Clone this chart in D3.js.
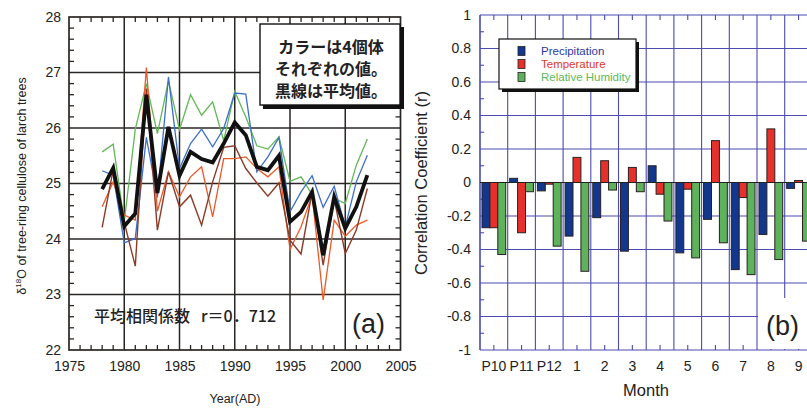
<!DOCTYPE html>
<html><head><meta charset="utf-8">
<script src="https://cdn.jsdelivr.net/npm/d3@7"></script>
<style>
body{margin:0;background:#fff}
svg{display:block}
text{font-family:"Liberation Sans",Arial,sans-serif;fill:#222}
.jp{font-family:"Noto Sans CJK JP","Noto Sans",sans-serif}
</style>
</head><body>
<svg id="c" width="807" height="408"></svg>
<script>
// ---------- Panel (a) data ----------
const years = [1978,1979,1980,1981,1982,1983,1984,1985,1986,1987,1988,1989,1990,
               1991,1992,1993,1994,1995,1996,1997,1998,1999,2000,2001,2002];
const treeGreen  = [25.57,25.71,24.31,25.98,26.80,25.90,26.85,25.97,26.60,26.23,26.47,25.77,26.66,26.20,25.68,25.62,25.84,25.04,25.12,24.80,23.70,24.73,24.64,25.33,25.80];
const treeBlue   = [25.23,25.15,23.93,24.01,25.83,24.75,26.92,25.27,25.72,25.98,25.66,25.99,26.63,26.61,25.21,25.48,25.83,24.49,24.85,25.14,24.57,24.95,24.22,25.03,25.51];
const treeOrange = [24.58,25.03,24.43,24.34,27.09,24.50,25.21,24.76,25.12,25.30,24.40,25.45,25.45,25.48,25.27,25.12,25.30,23.81,24.22,24.79,22.90,24.34,24.05,24.25,24.34];
const treeBrown  = [24.21,25.25,24.30,23.51,26.71,24.16,25.21,24.58,24.79,24.25,25.03,25.65,25.68,25.27,25.01,24.77,25.01,23.98,23.73,24.85,23.53,24.72,23.74,24.16,24.91];
const treeMean   = [24.90,25.28,24.23,24.46,26.60,24.83,26.02,25.14,25.57,25.44,25.38,25.72,26.10,25.87,25.30,25.24,25.50,24.31,24.49,24.85,23.71,24.76,24.19,24.58,25.15];
const xTicksA = [1975,1980,1985,1990,1995,2000,2005];
const yTicksA = [22,23,24,25,26,27,28];
const boxLines = ["カラーは4個体","それぞれの値。","黒線は平均値。"];

// ---------- Panel (b) data ----------
const months = ["P10","P11","P12","1","2","3","4","5","6","7","8","9"];
const precipitation   = [-0.27, 0.025,-0.05,-0.32,-0.21,-0.41, 0.10,-0.42,-0.22,-0.52,-0.31,-0.035];
const temperature     = [-0.27,-0.30,-0.01, 0.15, 0.13, 0.09,-0.07,-0.04, 0.25,-0.09, 0.32, 0.012];
const relHumidity     = [-0.43,-0.055,-0.38,-0.53,-0.045,-0.055,-0.23,-0.45,-0.36,-0.55,-0.46,-0.35];
const seriesNames = ["Precipitation","Temperature","Relative Humidity"];
const yTicksB = [-1,-0.8,-0.6,-0.4,-0.2,0,0.2,0.4,0.6,0.8,1];

const svg = d3.select("#c");

// ================= Panel (a) =================
(function(){
  const L=69,R=400.5,T=17,B=350;
  const x=d3.scaleLinear().domain([1975,2005]).range([L,R]);
  const y=d3.scaleLinear().domain([22,28]).range([B,T]);
  const g=svg.append("g");
  const gridC="#2a2624";
  g.selectAll(".gx").data(xTicksA.slice(1,-1)).join("line")
    .attr("x1",d=>x(d)).attr("x2",d=>x(d)).attr("y1",T).attr("y2",B)
    .attr("stroke",gridC).attr("stroke-width",1.5);
  g.selectAll(".gy").data(yTicksA.slice(1,-1)).join("line")
    .attr("y1",d=>y(d)).attr("y2",d=>y(d)).attr("x1",L).attr("x2",R)
    .attr("stroke",gridC).attr("stroke-width",1.5);
  const minorX=d3.range(1976,2005,1).filter(v=>v%5!==0);
  const minorY=d3.range(22.2,28,0.2).filter(v=>Math.abs(v-Math.round(v))>0.01);
  const tl=5;
  minorX.forEach(v=>{
    g.append("line").attr("x1",x(v)).attr("x2",x(v)).attr("y1",B).attr("y2",B-tl).attr("stroke",gridC).attr("stroke-width",1.3);
    g.append("line").attr("x1",x(v)).attr("x2",x(v)).attr("y1",T).attr("y2",T+tl).attr("stroke",gridC).attr("stroke-width",1.3);
  });
  minorY.forEach(v=>{
    g.append("line").attr("y1",y(v)).attr("y2",y(v)).attr("x1",L).attr("x2",L+tl).attr("stroke",gridC).attr("stroke-width",1.3);
    g.append("line").attr("y1",y(v)).attr("y2",y(v)).attr("x1",R).attr("x2",R-tl).attr("stroke",gridC).attr("stroke-width",1.3);
  });
  g.append("rect").attr("x",L).attr("y",T).attr("width",R-L).attr("height",B-T)
    .attr("fill","none").attr("stroke",gridC).attr("stroke-width",1.7);

  const ax=g.append("g").attr("transform",`translate(0,${B})`)
    .call(d3.axisBottom(x).tickValues(xTicksA).tickFormat(d3.format("d")).tickSize(0).tickPadding(8));
  ax.select(".domain").remove();
  ax.selectAll("text").attr("font-size",14).attr("fill","#222").attr("dy","0.9em");
  const ay=g.append("g").attr("transform",`translate(${L},0)`)
    .call(d3.axisLeft(y).tickValues(yTicksA).tickFormat(d3.format("d")).tickSize(0).tickPadding(8));
  ay.select(".domain").remove();
  ay.selectAll("text").attr("font-size",14).attr("fill","#222");

  g.append("text").attr("x",235).attr("y",403).attr("text-anchor","middle")
    .attr("font-size",12.5).text("Year(AD)");
  const yl=g.append("text").attr("transform","translate(26,186) rotate(-90)")
    .attr("text-anchor","middle").attr("font-size",12.5);
  yl.append("tspan").text("δ");
  yl.append("tspan").attr("font-size",8).attr("dy",-5).text("18");
  yl.append("tspan").attr("dy",5).text("O of tree-ring cellulose of larch trees");

  const line=d3.line().x((d,i)=>x(years[i])).y(d=>y(d));
  const series=[[treeGreen,"#62b856",1.3],[treeBlue,"#3d6fc8",1.3],[treeOrange,"#ea5a28",1.3],[treeBrown,"#8c3b27",1.4],[treeMean,"#111",3.8]];
  series.forEach(([arr,c,w])=>{
    g.append("path").datum(arr).attr("d",line).attr("fill","none")
      .attr("stroke",c).attr("stroke-width",w).attr("stroke-linejoin","miter");
  });

  g.append("rect").attr("x",263).attr("y",27).attr("width",141).attr("height",82).attr("fill","#111");
  g.append("rect").attr("x",260).attr("y",24).attr("width",140).attr("height",81)
    .attr("fill","#fff").attr("stroke","#111").attr("stroke-width",1.4);
  boxLines.forEach((t,i)=>{
    g.append("text").attr("class","jp").attr("x",331).attr("y",53+i*22).attr("text-anchor","middle")
      .attr("font-size",16).attr("font-weight",700).attr("fill","#111").text(t);
  });
  g.append("text").attr("class","jp").attr("x",94).attr("y",322).attr("font-size",16)
    .attr("font-weight",500).attr("fill","#111").text("平均相関係数");
  g.append("text").attr("class","jp").attr("x",201).attr("y",322).attr("font-size",16)
    .attr("font-weight",500).attr("fill","#111").text("r＝0．712");
  g.append("text").attr("x",352).attr("y",333).attr("font-size",27).attr("fill","#111").text("(a)");
})();

// ================= Panel (b) =================
(function(){
  const L=480,T=15,B=350,step=27.7;
  const R=L+step*months.length;
  const x=d3.scaleBand().domain(months).range([L,R]).paddingInner(0).paddingOuter(0);
  const xs=d3.scaleBand().domain(seriesNames).range([0,x.bandwidth()]).paddingInner(0).paddingOuter(0.25);
  const y=d3.scaleLinear().domain([-1,1]).range([B,T]);
  const g=svg.append("g");
  const gc="#4b4bb0";
  const bounds=months.map(m=>x(m));
  g.selectAll(".vx").data(bounds.slice(1)).join("line")
    .attr("x1",d=>d).attr("x2",d=>d).attr("y1",T).attr("y2",B).attr("stroke",gc).attr("stroke-width",1.1);
  g.selectAll(".hy").data(yTicksB).join("line")
    .attr("y1",d=>y(d)).attr("y2",d=>y(d)).attr("x1",L).attr("x2",R).attr("stroke",gc).attr("stroke-width",1.1);
  g.append("line").attr("x1",L).attr("x2",L).attr("y1",T).attr("y2",B).attr("stroke",gc).attr("stroke-width",1.6);
  yTicksB.slice(0,-1).forEach(v=>{
    const m=v+0.1;
    g.append("line").attr("x1",L).attr("x2",L+4).attr("y1",y(m)).attr("y2",y(m)).attr("stroke",gc).attr("stroke-width",1.1);
  });
  months.forEach(m=>{
    const cx=x(m)+x.bandwidth()/2;
    g.append("line").attr("x1",cx).attr("x2",cx).attr("y1",T).attr("y2",T+5).attr("stroke",gc).attr("stroke-width",1.1);
    g.append("line").attr("x1",cx).attr("x2",cx).attr("y1",B).attr("y2",B-5).attr("stroke",gc).attr("stroke-width",1.1);
  });

  const colors=["#12388e","#e6302b","#5eb25c"];
  const data=months.map((m,i)=>({m,vals:[precipitation[i],temperature[i],relHumidity[i]]}));
  const gb=g.append("g").selectAll("g").data(data).join("g").attr("transform",d=>`translate(${x(d.m)},0)`);
  gb.selectAll("rect").data(d=>d.vals.map((v,k)=>({v,k}))).join("rect")
    .attr("x",d=>xs(seriesNames[d.k])).attr("width",xs.bandwidth())
    .attr("y",d=>y(Math.max(0,d.v))).attr("height",d=>Math.abs(y(d.v)-y(0)))
    .attr("fill",d=>colors[d.k]).attr("stroke","#2a2020").attr("stroke-width",1);
  g.append("line").attr("x1",L).attr("x2",R).attr("y1",y(0)).attr("y2",y(0)).attr("stroke","#222").attr("stroke-width",1.2);

  const ax=g.append("g").attr("transform",`translate(0,${B})`).call(d3.axisBottom(x).tickSize(0).tickPadding(8));
  ax.select(".domain").remove();
  ax.selectAll("text").attr("font-size",14).attr("fill","#222").attr("dy","0.9em");
  const ay=g.append("g").attr("transform",`translate(${L},0)`)
    .call(d3.axisLeft(y).tickValues(yTicksB).tickFormat(d=>String(+d.toFixed(1))).tickSize(0).tickPadding(9));
  ay.select(".domain").remove();
  ay.selectAll("text").attr("font-size",14).attr("fill","#222");

  g.append("text").attr("x",646).attr("y",396).attr("text-anchor","middle").attr("font-size",16.5).text("Month");
  g.append("text").attr("transform","translate(427,183) rotate(-90)").attr("text-anchor","middle")
    .attr("font-size",16.5).text("Correlation Coefficient (r)");

  g.append("rect").attr("x",502).attr("y",42).attr("width",137).attr("height",50).attr("fill","#111");
  g.append("rect").attr("x",499).attr("y",39).attr("width",137).attr("height",50).attr("fill","#fff").attr("stroke","#111").attr("stroke-width",1.2);
  seriesNames.forEach((s,i)=>{
    const cy=51+i*13;
    g.append("rect").attr("x",518).attr("y",cy-4.5).attr("width",7).attr("height",9)
      .attr("fill",colors[i]).attr("stroke","#222").attr("stroke-width",0.8);
    g.append("text").attr("x",541).attr("y",cy+4).attr("font-size",11.5)
      .style("fill",["#2c3a9c","#e4381f","#5cb85c"][i]).text(s);
  });

  g.append("rect").attr("x",758).attr("y",298).attr("width",60).attr("height",51).attr("fill","#fff");
  g.append("text").attr("x",766).attr("y",335).attr("font-size",27).attr("fill","#111").text("(b)");
})();
</script>
</body></html>
